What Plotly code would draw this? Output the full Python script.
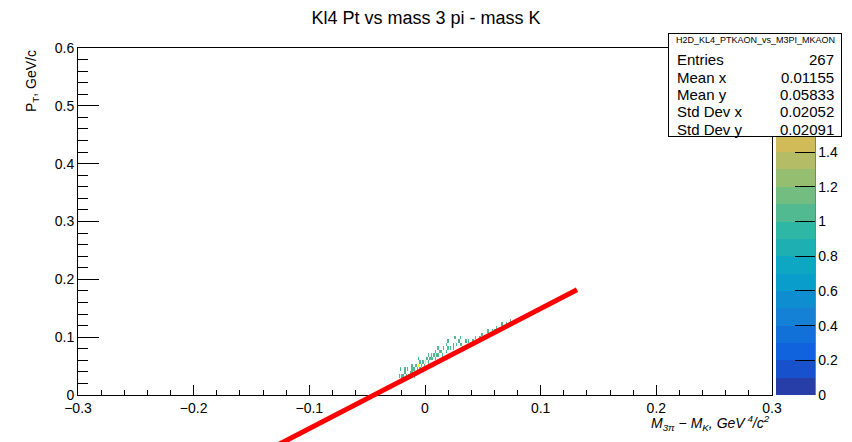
import numpy as np
import plotly.graph_objects as go

# ---- histogram entries (M3pi - MK, PT) ----
entry_x = [-0.022, -0.020, -0.019, -0.017, -0.016, -0.015, -0.013, -0.012, -0.011, -0.010,
           -0.009, -0.008, -0.007, -0.006, -0.005, -0.004, -0.003, -0.002, -0.001, 0.000,
           0.001, 0.002, 0.003, 0.004, 0.005, 0.006, 0.007, 0.008, 0.009, 0.010,
           0.011, 0.012, 0.013, 0.014, 0.015, 0.016, 0.018, 0.019, 0.020, 0.022,
           0.024, 0.025, 0.027, 0.029, 0.030, 0.032, 0.035, 0.038, 0.041, 0.044,
           0.047, 0.050, 0.055, 0.058, 0.062, 0.066, 0.070, 0.074, 0.078, 0.086,
           -0.018, -0.014, -0.009, -0.004, 0.001, 0.006, 0.012, 0.017, 0.023, 0.028,
           0.033, 0.039, 0.045, 0.052, 0.060,
           -0.021, -0.017, -0.012, -0.006, 0.003, 0.009, 0.020, 0.026, 0.031, 0.048]
entry_y = [0.031, 0.036, 0.030, 0.040, 0.035, 0.043, 0.038, 0.044, 0.041, 0.047,
           0.045, 0.050, 0.046, 0.052, 0.049, 0.055, 0.051, 0.057, 0.053, 0.058,
           0.056, 0.061, 0.058, 0.064, 0.060, 0.066, 0.062, 0.068, 0.064, 0.071,
           0.080, 0.069, 0.074, 0.077, 0.070, 0.078, 0.075, 0.085, 0.078, 0.082,
           0.080, 0.088, 0.084, 0.094, 0.085, 0.088, 0.091, 0.094, 0.095, 0.098,
           0.100, 0.104, 0.110, 0.111, 0.116, 0.121, 0.124, 0.127, 0.130, 0.137,
           0.027, 0.032, 0.036, 0.042, 0.047, 0.052, 0.058, 0.063, 0.070, 0.076,
           0.081, 0.087, 0.093, 0.100, 0.108,
           0.044, 0.047, 0.050, 0.060, 0.070, 0.075, 0.093, 0.097, 0.099, 0.106]

# binning of the 2D histogram
nbins_x, x_lo, x_hi = 500, -0.3, 0.3
nbins_y, y_lo, y_hi = 100, 0.0, 0.6

# linear fit pol1: p0 + p1*x
fit_p0, fit_p1 = 0.0457, 1.037
fit_range = [-0.13, 0.1314]

# statistics box
stats_name = "H2D_KL4_PTKAON_vs_M3PI_MKAON"
stats_labels = ["Entries", "Mean x", "Mean y", "Std Dev x", "Std Dev y"]
stats_values = ["267", "0.01155", "0.05833", "0.02052", "0.02091"]

# axis ticks
x_ticks = [-0.3, -0.2, -0.1, 0.0, 0.1, 0.2, 0.3]
x_ticktext = ["\u22120.3", "\u22120.2", "\u22120.1", "0", "0.1", "0.2", "0.3"]
y_ticks = [0.0, 0.1, 0.2, 0.3, 0.4, 0.5, 0.6]
y_ticktext = ["0", "0.1", "0.2", "0.3", "0.4", "0.5", "0.6"]
z_ticks = [0, 0.2, 0.4, 0.6, 0.8, 1.0, 1.2, 1.4]
z_ticktext = ["0", "0.2", "0.4", "0.6", "0.8", "1", "1.2", "1.4"]
z_min, z_max, n_contours = 0.0, 2.0, 20

W, H = 852, 442
FONT = "Liberation Sans, Arial, Helvetica, sans-serif"

# frame of the pad in pixels
fx0, fx1 = 78, 772
fy_top, fy_bot = 48, 395

# ---- ROOT kBird palette, discretised into contour bands ----
bird_stops = [0.0000, 0.1250, 0.2500, 0.3750, 0.5000, 0.6250, 0.7500, 0.8750, 1.0000]
bird_r = [0.2082, 0.0592, 0.0780, 0.0232, 0.1802, 0.5301, 0.8186, 0.9956, 0.9764]
bird_g = [0.1664, 0.3599, 0.5041, 0.6419, 0.7178, 0.7492, 0.7328, 0.7862, 0.9832]
bird_b = [0.5293, 0.8684, 0.8385, 0.7914, 0.6425, 0.4662, 0.3499, 0.1968, 0.0539]


def bird(t):
    r = np.interp(t, bird_stops, bird_r)
    g = np.interp(t, bird_stops, bird_g)
    b = np.interp(t, bird_stops, bird_b)
    return "rgb(%d,%d,%d)" % (round(r * 255), round(g * 255), round(b * 255))


colorscale = []
for i in range(n_contours):
    idx = int((i + 0.99) * 255 / n_contours)
    c = bird(min(idx, 254) / 254)
    colorscale.append([i / n_contours, c])
    colorscale.append([(i + 1) / n_contours, c])

# ---- fill histogram ----
counts, xe, ye = np.histogram2d(entry_x, entry_y, bins=[nbins_x, nbins_y],
                                range=[[x_lo, x_hi], [y_lo, y_hi]])
z = counts.T.astype(float)
z[z == 0] = np.nan
dx = (x_hi - x_lo) / nbins_x
dy = (y_hi - y_lo) / nbins_y

# paper-space domains
xdom = [fx0 / W, fx1 / W]
ydom = [(H - fy_bot) / H, (H - fy_top) / H]
# second y axis reaching the bottom of the canvas with the same scale
scale = (y_hi - y_lo) / (ydom[1] - ydom[0])
y2_range = [y_lo - ydom[0] * scale, y_hi]

fig = go.Figure()

fig.add_trace(go.Heatmap(
    z=z, x0=x_lo + dx / 2, dx=dx, y0=y_lo + dy / 2, dy=dy,
    zmin=z_min, zmax=z_max, colorscale=colorscale, hoverongaps=False,
    xaxis="x", yaxis="y",
    colorbar=dict(
        x=776 / W, xanchor="left", y=ydom[0], yanchor="bottom",
        len=ydom[1] - ydom[0], lenmode="fraction",
        thickness=39, thicknessmode="pixels",
        outlinewidth=0, ypad=0, xpad=0,
        tickvals=z_ticks, ticktext=z_ticktext,
        ticks="inside", ticklen=20, tickcolor="black", tickwidth=1,
        tickfont=dict(family=FONT, size=14, color="black"),
    ),
))

fit_x = np.linspace(fit_range[0], fit_range[1], 50)
fit_y = fit_p0 + fit_p1 * fit_x
fig.add_trace(go.Scatter(
    x=fit_x, y=fit_y, mode="lines", line=dict(color="rgb(255,0,0)", width=5),
    xaxis="x2", yaxis="y2", showlegend=False, hoverinfo="skip",
))

axis_common = dict(
    showgrid=False, zeroline=False, showline=True, linecolor="black", linewidth=1,
    mirror=True, ticks="inside", tickcolor="black", tickwidth=1,
    tickfont=dict(family=FONT, size=14, color="black"),
)

fig.update_layout(
    width=W, height=H, margin=dict(l=0, r=0, t=0, b=0, autoexpand=False),
    paper_bgcolor="white", plot_bgcolor="rgba(0,0,0,0)",
    showlegend=False,
    xaxis=dict(domain=xdom, range=[x_lo, x_hi], anchor="y",
               tickvals=x_ticks, ticktext=x_ticktext, ticklen=10,
               minor=dict(dtick=0.02, tick0=0, ticks="inside", ticklen=5,
                          tickcolor="black", showgrid=False),
               **axis_common),
    yaxis=dict(domain=ydom, range=[y_lo, y_hi], anchor="x",
               tickvals=y_ticks, ticktext=y_ticktext, ticklen=21,
               minor=dict(dtick=0.02, tick0=0, ticks="inside", ticklen=10,
                          tickcolor="black", showgrid=False),
               **axis_common),
    xaxis2=dict(domain=xdom, range=[x_lo, x_hi], anchor="y2", visible=False,
                showgrid=False, zeroline=False),
    yaxis2=dict(domain=[0, ydom[1]], range=y2_range, anchor="x2", visible=False,
                showgrid=False, zeroline=False),
    title=dict(text="Kl4 Pt vs mass 3 pi - mass K", x=0.5, xanchor="center",
               y=1 - 18 / H, yanchor="middle",
               font=dict(family=FONT, size=18, color="black")),
)

# colorbar axis line on the right edge
fig.add_shape(type="line", xref="paper", yref="paper",
              x0=815 / W, x1=815 / W, y0=ydom[0], y1=ydom[1],
              line=dict(color="black", width=1))

annotations = []
# axis titles
annotations.append(dict(
    text="<i>M<sub>3\u03c0</sub> \u2212 M<sub>K</sub>, GeV<sup> 4</sup>/c<sup>2</sup></i>",
    xref="paper", yref="paper", x=fx1 / W, y=1 - 423 / H,
    xanchor="right", yanchor="middle", showarrow=False,
    font=dict(family=FONT, size=14, color="black")))
annotations.append(dict(
    text="P<sub>T</sub>, GeV/c", textangle=-90,
    xref="paper", yref="paper", x=32 / W, y=1 - fy_top / H,
    xanchor="center", yanchor="top", showarrow=False,
    font=dict(family=FONT, size=14, color="black")))

# statistics box
bx0, bx1, by0, by1 = 668, 842, 33, 137
annotations.append(dict(
    text=" ", xref="paper", yref="paper",
    x=bx0 / W, y=1 - by0 / H, xanchor="left", yanchor="top",
    width=bx1 - bx0 - 2, height=by1 - by0 - 2, showarrow=False,
    bgcolor="white", bordercolor="black", borderwidth=1, borderpad=0))
annotations.append(dict(
    text=stats_name, xref="paper", yref="paper",
    x=(bx0 + bx1) / 2 / W, y=1 - 40 / H, xanchor="center", yanchor="middle",
    showarrow=False, font=dict(family=FONT, size=9, color="black")))
row_y0, row_dy = 60, 17.3
for i, (lab, val) in enumerate(zip(stats_labels, stats_values)):
    yy = 1 - (row_y0 + i * row_dy) / H
    annotations.append(dict(text=lab, xref="paper", yref="paper", x=675 / W, y=yy,
                            xanchor="left", yanchor="middle", showarrow=False,
                            font=dict(family=FONT, size=15, color="black")))
    annotations.append(dict(text=val, xref="paper", yref="paper", x=836 / W, y=yy,
                            xanchor="right", yanchor="middle", showarrow=False,
                            font=dict(family=FONT, size=15, color="black")))
fig.update_layout(annotations=annotations)

# separator under the statistics title
fig.add_shape(type="line", xref="paper", yref="paper",
              x0=bx0 / W, x1=bx1 / W, y0=1 - 47 / H, y1=1 - 47 / H,
              line=dict(color="black", width=1), layer="above")

fig.write_html("out.html")
